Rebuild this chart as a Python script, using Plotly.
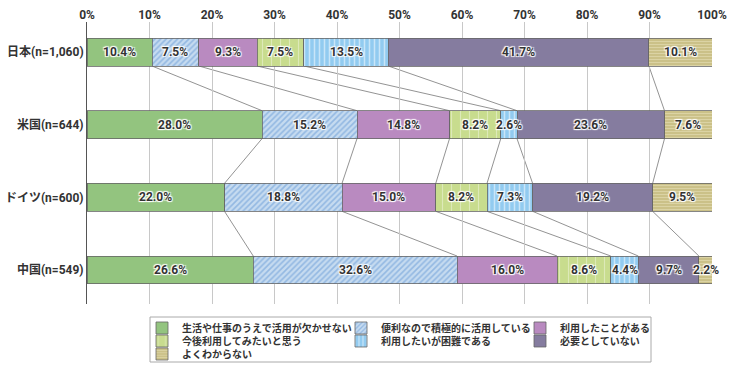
import plotly.graph_objects as go

countries = ["日本(n=1,060)", "米国(n=644)", "ドイツ(n=600)", "中国(n=549)"]
series_names = [
    "生活や仕事のうえで活用が欠かせない",
    "便利なので積極的に活用している",
    "利用したことがある",
    "今後利用してみたいと思う",
    "利用したいが困難である",
    "必要としていない",
    "よくわからない",
]
values = [
    [10.4, 28.0, 22.0, 26.6],
    [7.5, 15.2, 18.8, 32.6],
    [9.3, 14.8, 15.0, 16.0],
    [7.5, 8.2, 8.2, 8.6],
    [13.5, 2.6, 7.3, 4.4],
    [41.7, 23.6, 19.2, 9.7],
    [10.1, 7.6, 9.5, 2.2],
]
x_ticks = [0, 10, 20, 30, 40, 50, 60, 70, 80, 90, 100]

FONT = "Roboto, Noto Sans CJK JP"
colors = ["#93C47F", "#C6DBF0", "#B98AC0", "#C8DC8E", "#92CBF0", "#857C9F", "#C9BF85"]
patterns = [
    None,
    dict(shape="/", fgcolor="#5F95D4", size=4, solidity=0.4, fillmode="overlay"),
    None,
    dict(shape="|", fgcolor="#F2F6E2", size=9, solidity=0.12, fillmode="overlay"),
    dict(shape="|", fgcolor="#FFFFFF", size=5, solidity=0.3, fillmode="overlay"),
    None,
    dict(shape="-", fgcolor="#EEE8C4", size=3, solidity=0.4, fillmode="overlay"),
]

# legend placement (paper coords) for each series: 3 columns, 3 rows
leg_x = [0.088, 0.4064, 0.6928, 0.088, 0.4064, 0.6928, 0.088]
leg_y = [-0.0851, -0.0851, -0.0851, -0.1312, -0.1312, -0.1312, -0.1773]

ypos = list(range(len(countries)))
bar_w = 0.385
shadow = "1px 1px 1px #fff, -1px -1px 1px #fff, 1px -1px 1px #fff, -1px 1px 1px #fff"

fig = go.Figure()
legend_layouts = {}
for i, (name, vals, col, pat) in enumerate(zip(series_names, values, colors, patterns)):
    marker = dict(color=col, line=dict(color="#666666", width=0.8))
    if pat:
        marker["pattern"] = pat
    lname = "legend" if i == 0 else f"legend{i + 1}"
    fig.add_trace(go.Bar(
        y=ypos, x=vals, name=name, orientation="h", width=bar_w,
        marker=marker, legend=lname, hoverinfo="x+name",
    ))
    legend_layouts[lname] = dict(
        orientation="h", x=leg_x[i], y=leg_y[i], xanchor="left", yanchor="middle",
        borderwidth=0, bgcolor="rgba(0,0,0,0)", itemwidth=30,
        font=dict(family=FONT, size=10, weight="bold", color="#333333"),
    )

# segment labels at the middle of each stacked segment
n_series = len(values)
for j in range(len(countries)):
    s = 0.0
    for k in range(n_series):
        v = values[k][j]
        fig.add_annotation(x=s + v / 2, y=ypos[j], xref="x", yref="y",
                           text=f"{v:.1f}%", showarrow=False,
                           font=dict(family=FONT, size=12, color="#333333",
                                     weight="bold", shadow=shadow))
        s += v

# connector lines between cumulative boundaries of adjacent bars
cums = []
for j in range(len(countries)):
    c, s = [], 0.0
    for k in range(n_series - 1):
        s += values[k][j]
        c.append(s)
    cums.append(c)
for j in range(len(countries) - 1):
    for k in range(n_series - 1):
        fig.add_shape(type="line", xref="x", yref="y",
                      x0=cums[j][k], y0=ypos[j] + bar_w / 2,
                      x1=cums[j + 1][k], y1=ypos[j + 1] - bar_w / 2,
                      line=dict(color="#777777", width=0.8), layer="below")

# legend frame
fig.add_shape(type="rect", xref="paper", yref="paper",
              x0=0.1008, x1=0.9024, y0=-0.0461, y1=-0.2057,
              line=dict(color="#AAAAAA", width=1), fillcolor="rgba(0,0,0,0)")

fig.update_layout(
    barmode="stack",
    width=731, height=365,
    margin=dict(l=87, r=19, t=22, b=61, autoexpand=False),
    plot_bgcolor="white", paper_bgcolor="white",
    font=dict(family=FONT, color="#333333"),
    xaxis=dict(side="top", range=[0, 100], tickvals=x_ticks,
               ticktext=[f"{t}%" for t in x_ticks], automargin=False,
               showgrid=True, gridcolor="#C8C8C8", gridwidth=1,
               zeroline=False, showline=False, ticks="",
               tickfont=dict(family=FONT, size=12, weight="bold", color="#333333")),
    yaxis=dict(range=[3.468, -0.413], tickvals=ypos, ticktext=countries,
               showgrid=False, zeroline=False, showline=True, automargin=False,
               linecolor="#555555", linewidth=1, ticks="",
               tickfont=dict(family=FONT, size=12, weight="bold", color="#333333")),
    showlegend=True,
    **legend_layouts,
)

fig.write_html("out.html", config={"displayModeBar": False},
               post_script="document.body.style.margin='0';")
